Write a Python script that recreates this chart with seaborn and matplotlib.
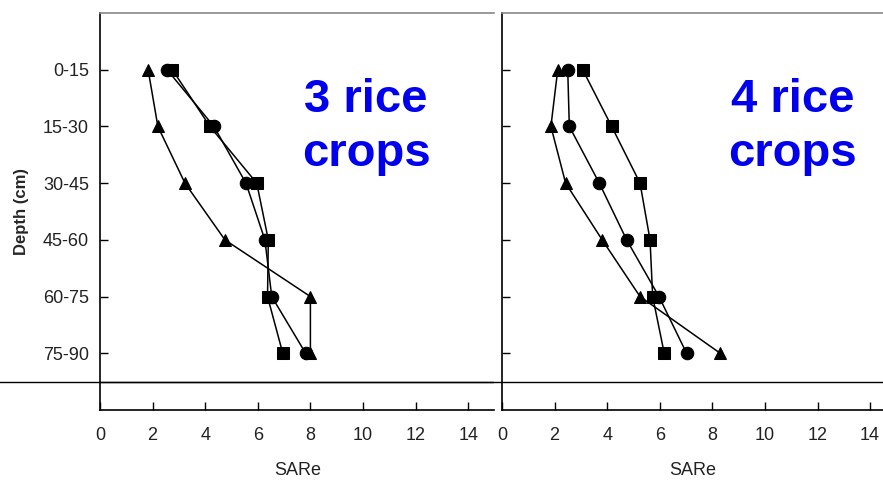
import numpy as np
import pandas as pd
import matplotlib
matplotlib.use("Agg")
import matplotlib.pyplot as plt
import seaborn as sns

sns.set_theme(style="white")
plt.rcParams["font.family"] = ["Liberation Sans", "DejaVu Sans"]

# Soil depth layers (cm)
depths = ["0-15", "15-30", "30-45", "45-60", "60-75", "75-90"]

# SARe profiles after 3 rice crops
sare3_tri = [1.83, 2.2, 3.23, 4.75, 8.0, 8.0]
sare3_cir = [2.55, 4.33, 5.55, 6.27, 6.53, 7.82]
sare3_sq = [2.75, 4.18, 5.96, 6.4, 6.37, 6.95]

# SARe profiles after 4 rice crops
sare4_tri = [2.12, 1.86, 2.42, 3.81, 5.25, 8.3]
sare4_cir = [2.5, 2.56, 3.7, 4.74, 5.97, 7.02]
sare4_sq = [3.07, 4.17, 5.25, 5.63, 5.73, 6.17]

xticks = [0, 2, 4, 6, 8, 10, 12, 14]
panel_titles = ["3 rice\ncrops", "4 rice\ncrops"]

W, H = 883, 480
fig = plt.figure(figsize=(W / 100, H / 100), dpi=100)


def frac(x0, y0, x1, y1):
    return [x0 / W, 1 - y1 / H, (x1 - x0) / W, (y1 - y0) / H]


ax1 = fig.add_axes(frac(100, 13, 494.5, 410))
ax2 = fig.add_axes(frac(502, 13, 883, 410))

markers = {"T1": "^", "T2": "o", "T3": "s"}


def profile_frame(tri, cir, sq):
    rows = []
    for name, vals in (("T1", tri), ("T2", cir), ("T3", sq)):
        for i, v in enumerate(vals):
            rows.append({"series": name, "pos": i, "SARe": v})
    return pd.DataFrame(rows)


panels = [
    (ax1, profile_frame(sare3_tri, sare3_cir, sare3_sq), 15.0, (366, 127)),
    (ax2, profile_frame(sare4_tri, sare4_cir, sare4_sq), 14.49, (793, 127)),
]

for ax, df, xmax, _ in panels:
    sns.lineplot(
        data=df, x="SARe", y="pos", hue="series", style="series",
        markers=markers, dashes=False, sort=False, orient="y",
        estimator=None, palette=["black"] * 3, linewidth=1.1,
        markersize=9, markeredgecolor="black", legend=False, ax=ax,
    )
    ax.set_xlim(0, xmax)
    ax.set_ylim(6, -1)
    ax.set_yticks(range(len(depths)))
    ax.set_xticks(xticks)
    ax.set_xticklabels([str(t) for t in xticks], fontsize=13, color="#222222")
    ax.set_xlabel("SARe", fontsize=13, color="#222222", labelpad=13)
    ax.tick_params(axis="both", direction="in", length=6, width=1,
                   color="black", pad=12, left=True, bottom=True)
    ax.axhline(5.5, color="black", linewidth=1)
    for side in ("left", "bottom"):
        ax.spines[side].set_color("black")
        ax.spines[side].set_linewidth(1.2)
    ax.spines["top"].set_color("#888888")
    ax.spines["top"].set_linewidth(1.2)
    ax.spines["right"].set_visible(False)
    ax.set_ylabel("")

ax1.set_yticklabels(depths, fontsize=13, color="#222222")
ax1.tick_params(axis="y", pad=8)
ax2.set_yticklabels([])
ax1.set_ylabel("Depth (cm)", fontsize=12, fontweight="bold", labelpad=10)

# extend the lower reference line across the full figure width
ax1.axhline(5.5, xmin=-0.3, xmax=1.03, color="black", linewidth=1, clip_on=False)

for (ax, df, xmax, (cx, cy)), title in zip(panels, panel_titles):
    fig.text(cx / W, 1 - cy / H, title, ha="center", va="center",
             fontsize=34, fontweight="bold", color="#0000ee",
             linespacing=1.3)

fig.savefig("out.png", dpi=100)
